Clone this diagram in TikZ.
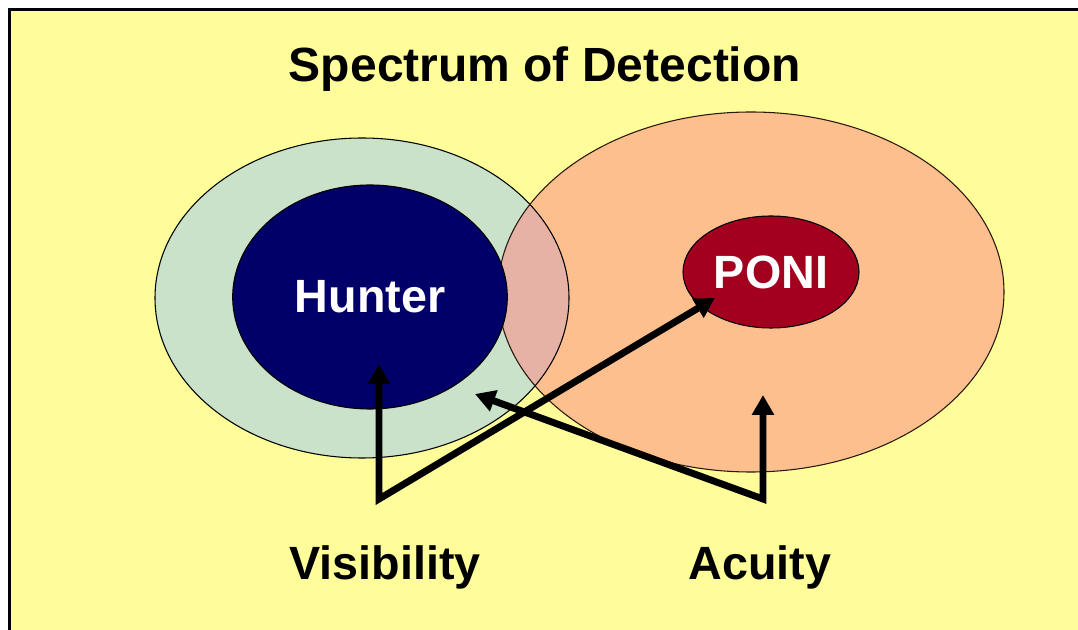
\documentclass[tikz,border=0pt]{standalone}
\usepackage{fontspec}
\setmainfont{Liberation Sans}
\usetikzlibrary{shapes.geometric, arrows.meta}

\definecolor{bgyellow}{HTML}{FFFD99}
\definecolor{seagrey}{HTML}{C9E2C9}
\definecolor{peach}{HTML}{FDBF8D}
\definecolor{blush}{HTML}{E6B2A6}
\definecolor{navy}{HTML}{000068}
\definecolor{wine}{HTML}{A3001F}

\begin{document}
\begin{tikzpicture}[x=0.75pt, y=-0.75pt,
		lbl/.style={font=\fontsize{35}{40}\selectfont\bfseries, inner sep=0pt},
		arr/.style={line width=5.2pt, {Triangle[length=15pt,width=16pt]}-{Triangle[length=15pt,width=16pt]}}]
			\useasboundingbox (0, 0) rectangle (1078, 630);
			\fill[white] (0, 0) rectangle (1078, 630);
			\fill[bgyellow] (10, 10) rectangle (1078, 630);
			\draw[line width=2.2pt] (9.5, 630) -- (9.5, 9.5) -- (1078, 9.5);
			
			% the two zones
			\fill[seagrey] (362, 298) ellipse [x radius=207, y radius=160];
			\fill[peach] (751, 292) ellipse [x radius=253, y radius=180];
			\begin{scope}
				\clip (362, 298) ellipse [x radius=207, y radius=160];
				\fill[blush] (751, 292) ellipse [x radius=253, y radius=180];
			\end{scope}
			\draw[line width=0.8pt] (362, 298) ellipse [x radius=207, y radius=160];
			\draw[line width=0.8pt, black!80!brown] (751, 292) ellipse [x radius=253, y radius=180];
			
			\node[lbl, font=\fontsize{36}{40}\selectfont\bfseries, anchor=base] (title) at (545, 82) {Spectrum of Detection};
			
			\node[ellipse, fill=navy, draw=black, line width=0.8pt, minimum width=206pt, minimum height=168pt, text=white, lbl] (hunter) at (370, 297) {Hunter};
			\node[ellipse, fill=wine, draw=black, line width=0.8pt, minimum width=132pt, minimum height=84pt, text=white, lbl] (poni) at (771, 272) {PONI};
			
			\node[lbl, anchor=base] (visibility) at (385, 580) {Visibility};
			\node[lbl, anchor=base] (acuity) at (760, 580) {Acuity};
			
			\coordinate (vis) at (379, 499);
			\coordinate (acu) at (763, 499);
			\coordinate (huntip) at (379, 364);
			\coordinate (ponitip) at (715, 298);
			\coordinate (acutip) at (763, 395);
			\coordinate (edgetip) at (475, 394);
			
			\draw[arr] (huntip) -- (vis) -- (ponitip);
			\draw[arr] (edgetip) -- (acu) -- (acutip);
		\end{tikzpicture}
\end{document}
